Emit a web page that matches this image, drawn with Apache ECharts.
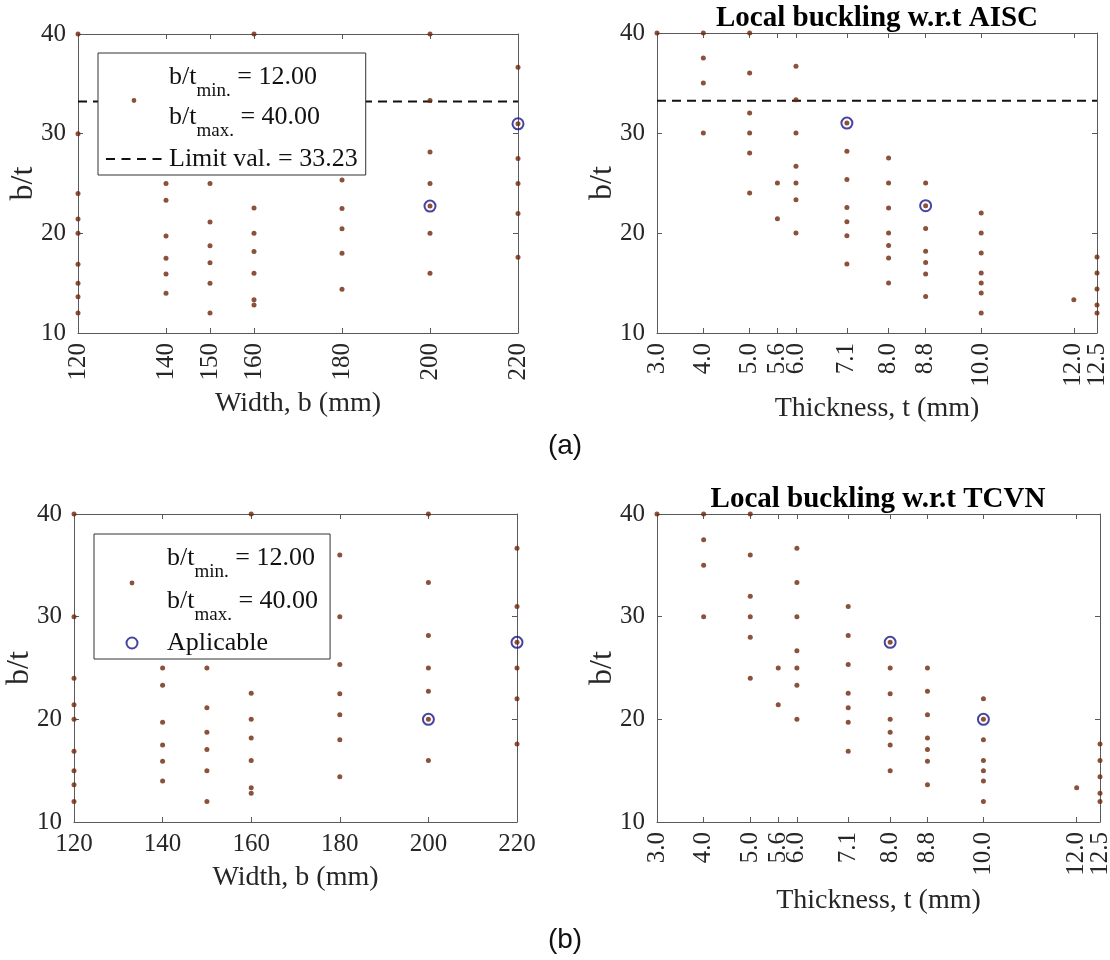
<!DOCTYPE html>
<html>
<head>
<meta charset="utf-8">
<script src="https://cdn.jsdelivr.net/npm/echarts@6/dist/echarts.min.js"></script>
<style>
  html, body { margin: 0; padding: 0; background: #fff; }
  #chart { width: 1110px; height: 960px; }
</style>
</head>
<body>
<div id="chart"></div>
<script>
// Candidate plate widths and thicknesses (tick positions)
const widthTicks = [120, 140, 150, 160, 180, 200, 220];
const thicknessTicks = [3.0, 4.0, 5.0, 5.6, 6.0, 7.1, 8.0, 8.8, 10.0, 12.0, 12.5];
const ratioTicks = [10, 20, 30, 40];

// One entry per section: width b (mm), thickness t (mm) and slenderness b/t
const sectionWidth = [
  120, 120, 120, 120, 120, 120, 120, 120, 120,
  140, 140, 140, 140, 140, 140, 140, 140,
  150, 150, 150, 150, 150, 150, 150, 150,
  160, 160, 160, 160, 160, 160, 160, 160, 160,
  180, 180, 180, 180, 180, 180, 180,
  200, 200, 200, 200, 200, 200, 200,
  220, 220, 220, 220, 220, 220
];
const sectionThickness = [
  3.0, 4.0, 5.0, 5.6, 6.0, 7.1, 8.0, 8.8, 10.0,
  4.0, 5.0, 5.6, 6.0, 7.1, 8.0, 8.8, 10.0,
  4.0, 5.0, 6.0, 7.1, 8.0, 8.8, 10.0, 12.5,
  4.0, 5.0, 6.0, 7.1, 8.0, 8.8, 10.0, 12.0, 12.5,
  5.0, 6.0, 7.1, 8.0, 8.8, 10.0, 12.5,
  5.0, 6.0, 7.1, 8.0, 8.8, 10.0, 12.5,
  6.0, 7.1, 8.0, 8.8, 10.0, 12.5
];
const sectionRatio = [
  40.00, 30.00, 24.00, 21.43, 20.00, 16.90, 15.00, 13.64, 12.00,
  35.00, 28.00, 25.00, 23.33, 19.72, 17.50, 15.91, 14.00,
  37.50, 30.00, 25.00, 21.13, 18.75, 17.05, 15.00, 12.00,
  40.00, 32.00, 26.67, 22.54, 20.00, 18.18, 16.00, 13.33, 12.80,
  36.00, 30.00, 25.35, 22.50, 20.45, 18.00, 14.40,
  40.00, 33.33, 28.17, 25.00, 22.73, 20.00, 16.00,
  36.67, 30.99, 27.50, 25.00, 22.00, 17.60
];

// Sections chosen as applicable under each code
const aiscOkWidth = [220, 200];
const aiscOkThickness = [7.1, 8.8];
const aiscOkRatio = [30.99, 22.73];
const tcvnOkWidth = [220, 200];
const tcvnOkThickness = [8.0, 10.0];
const tcvnOkRatio = [27.50, 20.00];

const ratioMin = 12.00;
const ratioMax = 40.00;
const aiscLimit = 33.23;

// ---- styling ----
const SERIF = '"Liberation Serif", "Times New Roman", serif';
const SANS = '"Liberation Sans", Arial, sans-serif';
const DOT = '#6e2509';
const RING = '#16168a';
const AXIS = '#5a5a5a';
const INK = '#262626';
const TICK_FONT = 25;

const NAME_RANGE = 'b/t range';
const NAME_LIMIT = 'Limit val.';
const NAME_OK = 'Aplicable';

// Legend glyphs: each spans the full 60x14 icon box so items share one origin
const DOT_ICON = 'path://M0,0L0,0M60,14L60,14M27.6,10.5A2.4,2.4,0,1,0,32.4,10.5A2.4,2.4,0,1,0,27.6,10.5Z';
const DASH_ICON = 'path://M0,0L0,0M60,14L60,14M2,6h9v2h-9zM17.5,6h9v2h-9zM33,6h9v2h-9zM48.5,6h9v2h-9z';
const RING_ICON = 'path://M0,0L0,0M60,14L60,14M24.5,7A5.5,5.5,0,1,0,35.5,7A5.5,5.5,0,1,0,24.5,7Z';

const grids = [
  { left: 78, top: 34, width: 440, height: 299 },   // (a) b vs b/t
  { left: 657, top: 33, width: 440, height: 300 },  // (a) t vs b/t
  { left: 74, top: 514, width: 443, height: 308 },  // (b) b vs b/t
  { left: 657, top: 514, width: 443, height: 308 }  // (b) t vs b/t
].map(g => Object.assign({ containLabel: false, outerBoundsMode: 'none' }, g));

function fmtWidth(v) { return String(Math.round(v)); }
function fmtThick(v) { return Number(v).toFixed(1); }

const lineStyleAxis = { color: AXIS, width: 1 };

function baseX(gridIndex, cfg) {
  const ax = {
    type: 'value', gridIndex, min: cfg.min, max: cfg.max,
    axisLine: { show: true, onZero: false, lineStyle: lineStyleAxis },
    axisTick: { show: true, inside: true, length: 5, lineStyle: lineStyleAxis },
    splitLine: { show: false }
  };
  if (cfg.ticks) ax.axisTick.customValues = cfg.ticks;
  else ax.interval = cfg.interval;
  return ax;
}

function labelStyle(cfg, values) {
  const l = {
    show: true, rotate: cfg.rotate, margin: 10, fontFamily: SERIF, fontSize: TICK_FONT, color: INK,
    formatter: cfg.fmt, hideOverlap: false
  };
  if (values) l.customValues = values;
  return l;
}

const xCfg = [
  { min: 120, max: 220, ticks: widthTicks, rotate: 90, fmt: fmtWidth, name: 'Width, b (mm)', nameGap: 57 },
  { min: 3, max: 12.5, ticks: thicknessTicks, rotate: 90, fmt: fmtThick, name: 'Thickness, t (mm)', nameGap: 62, split: true },
  { min: 120, max: 220, interval: 20, rotate: 0, fmt: fmtWidth, name: 'Width, b (mm)', nameGap: 42 },
  { min: 3, max: 12.5, ticks: thicknessTicks, rotate: 90, fmt: fmtThick, name: 'Thickness, t (mm)', nameGap: 65, split: true }
];

const xAxes = [], yAxes = [], extraX = [];
xCfg.forEach((c, i) => {
  // bottom axis with name and labels
  const bottom = baseX(i, c);
  Object.assign(bottom, {
    position: 'bottom',
    name: c.name, nameLocation: 'middle', nameGap: c.nameGap, nameMoveOverlap: false,
    nameTextStyle: { fontFamily: SERIF, fontSize: 28, color: INK }
  });
  if (c.split) {
    // closely spaced thickness labels are shared between two stacked bottom axes
    const evenVals = c.ticks.filter((v, k) => k % 2 === 0);
    const oddVals = c.ticks.filter((v, k) => k % 2 === 1);
    bottom.axisLabel = labelStyle(c, evenVals);
    extraX.push({
      type: 'value', gridIndex: i, min: c.min, max: c.max, position: 'bottom',
      axisLine: { show: false }, axisTick: { show: false }, splitLine: { show: false },
      axisLabel: labelStyle(c, oddVals)
    });
  } else {
    bottom.axisLabel = labelStyle(c, c.ticks);
  }
  xAxes[i] = bottom;
  // mirrored top axis (box frame with inward ticks)
  const top = baseX(i, c);
  Object.assign(top, { position: 'top', axisLabel: { show: false } });
  xAxes[i + 4] = top;

  const yBase = () => ({
    type: 'value', gridIndex: i, min: ratioTicks[0], max: ratioTicks[ratioTicks.length - 1], interval: 10,
    axisLine: { show: true, onZero: false, lineStyle: lineStyleAxis },
    axisTick: { show: true, inside: true, length: 5, lineStyle: lineStyleAxis },
    splitLine: { show: false }
  });
  const left = yBase();
  Object.assign(left, {
    position: 'left',
    name: 'b/t', nameLocation: 'middle', nameRotate: 90, nameGap: 38, nameMoveOverlap: false,
    nameTextStyle: { fontFamily: SERIF, fontSize: 32, color: INK },
    axisLabel: { show: true, margin: 12, fontFamily: SERIF, fontSize: TICK_FONT, color: INK }
  });
  const right = yBase();
  Object.assign(right, { position: 'right', axisLabel: { show: false } });
  yAxes[i] = left; yAxes[i + 4] = right;
});
extraX.forEach(a => xAxes.push(a));

function pairs(xs, ys) { return xs.map((x, i) => [x, ys[i]]); }

const series = [];
const panelX = [sectionWidth, sectionThickness, sectionWidth, sectionThickness];
const okX = [aiscOkWidth, aiscOkThickness, tcvnOkWidth, tcvnOkThickness];
const okY = [aiscOkRatio, aiscOkRatio, tcvnOkRatio, tcvnOkRatio];
const xExtent = [widthTicks, thicknessTicks, widthTicks, thicknessTicks];

for (let g = 0; g < 4; g++) {
  if (g < 2) {
    // AISC limiting slenderness across the full axis span
    const ext = xExtent[g];
    series.push({
      type: 'line', name: NAME_LIMIT, xAxisIndex: g, yAxisIndex: g, z: 2,
      data: [[ext[0], aiscLimit], [ext[ext.length - 1], aiscLimit]],
      symbol: 'none', silent: true,
      itemStyle: { color: '#111' },
      lineStyle: { color: '#111', width: 2, type: [9, 6] }
    });
  }
  series.push({
    type: 'scatter', name: NAME_RANGE, xAxisIndex: g, yAxisIndex: g, z: 2,
    data: pairs(panelX[g], sectionRatio), symbol: 'circle', symbolSize: 5,
    itemStyle: { color: DOT }, silent: true
  });
  series.push({
    type: 'scatter', name: NAME_OK, xAxisIndex: g, yAxisIndex: g, z: 3,
    data: pairs(okX[g], okY[g]), symbol: 'circle', symbolSize: 11,
    itemStyle: { color: 'rgba(0,0,0,0)', borderColor: RING, borderWidth: 2 }, silent: true
  });
}

function legendRich(lh) {
  return {
    m: { fontFamily: SERIF, fontSize: 26, color: '#111', lineHeight: lh },
    s: { fontFamily: SERIF, fontSize: 19, color: '#111', lineHeight: 14, padding: [29, 0, 0, 0] },
    one: { fontFamily: SERIF, fontSize: 26, color: '#111', lineHeight: 34 }
  };
}
function legendText(name) {
  if (name === NAME_RANGE) {
    return '{m|b/t}{s|min.}{m| = ' + ratioMin.toFixed(2) + '}\n{m|b/t}{s|max.}{m| = ' + ratioMax.toFixed(2) + '}';
  }
  if (name === NAME_LIMIT) return '{one|Limit val. = ' + aiscLimit.toFixed(2) + '}';
  return '{one|' + name + '}';
}

const legendCommon = {
  orient: 'vertical', backgroundColor: '#fff', borderColor: '#333', borderWidth: 1,
  itemWidth: 60, itemHeight: 14, selectedMode: false, z: 10,
  formatter: legendText
};

const option = {
  animation: false,
  backgroundColor: '#fff',
  grid: grids,
  xAxis: xAxes,
  yAxis: yAxes,
  series,
  legend: [
    Object.assign({}, legendCommon, {
      left: 98, top: 53, padding: [0, 8, 3, 6], itemGap: 5,
      textStyle: { fontFamily: SERIF, fontSize: 26, color: '#111', rich: legendRich(40) },
      data: [
        { name: NAME_RANGE, icon: DOT_ICON, itemStyle: { color: DOT, borderWidth: 0 } },
        { name: NAME_LIMIT, icon: DASH_ICON, itemStyle: { color: '#111', borderWidth: 0 } }
      ]
    }),
    Object.assign({}, legendCommon, {
      left: 94, top: 534, padding: [0, 12, 3, 7], itemGap: 5,
      textStyle: { fontFamily: SERIF, fontSize: 26, color: '#111', rich: legendRich(43) },
      data: [
        { name: NAME_RANGE, icon: DOT_ICON, itemStyle: { color: DOT, borderWidth: 0 } },
        { name: NAME_OK, icon: RING_ICON, itemStyle: { color: 'rgba(0,0,0,0)', borderColor: RING, borderWidth: 2 } }
      ]
    })
  ],
  title: [
    { text: 'Local buckling w.r.t AISC', left: 877, top: 4,
      textStyle: { fontFamily: SERIF, fontWeight: 'bold', fontSize: 29, color: '#000' } },
    { text: 'Local buckling w.r.t TCVN', left: 878, top: 485,
      textStyle: { fontFamily: SERIF, fontWeight: 'bold', fontSize: 29, color: '#000' } },
    { text: '(a)', left: 565, top: 432,
      textStyle: { fontFamily: SANS, fontWeight: 'normal', fontSize: 28, color: '#111' } },
    { text: '(b)', left: 565, top: 926,
      textStyle: { fontFamily: SANS, fontWeight: 'normal', fontSize: 28, color: '#111' } }
  ].map(t => Object.assign(t, { textAlign: 'center', padding: 0 }))
};

const chart = echarts.init(document.getElementById('chart'), null, { renderer: 'canvas', width: 1110, height: 960 });
chart.setOption(option);
</script>
</body>
</html>
